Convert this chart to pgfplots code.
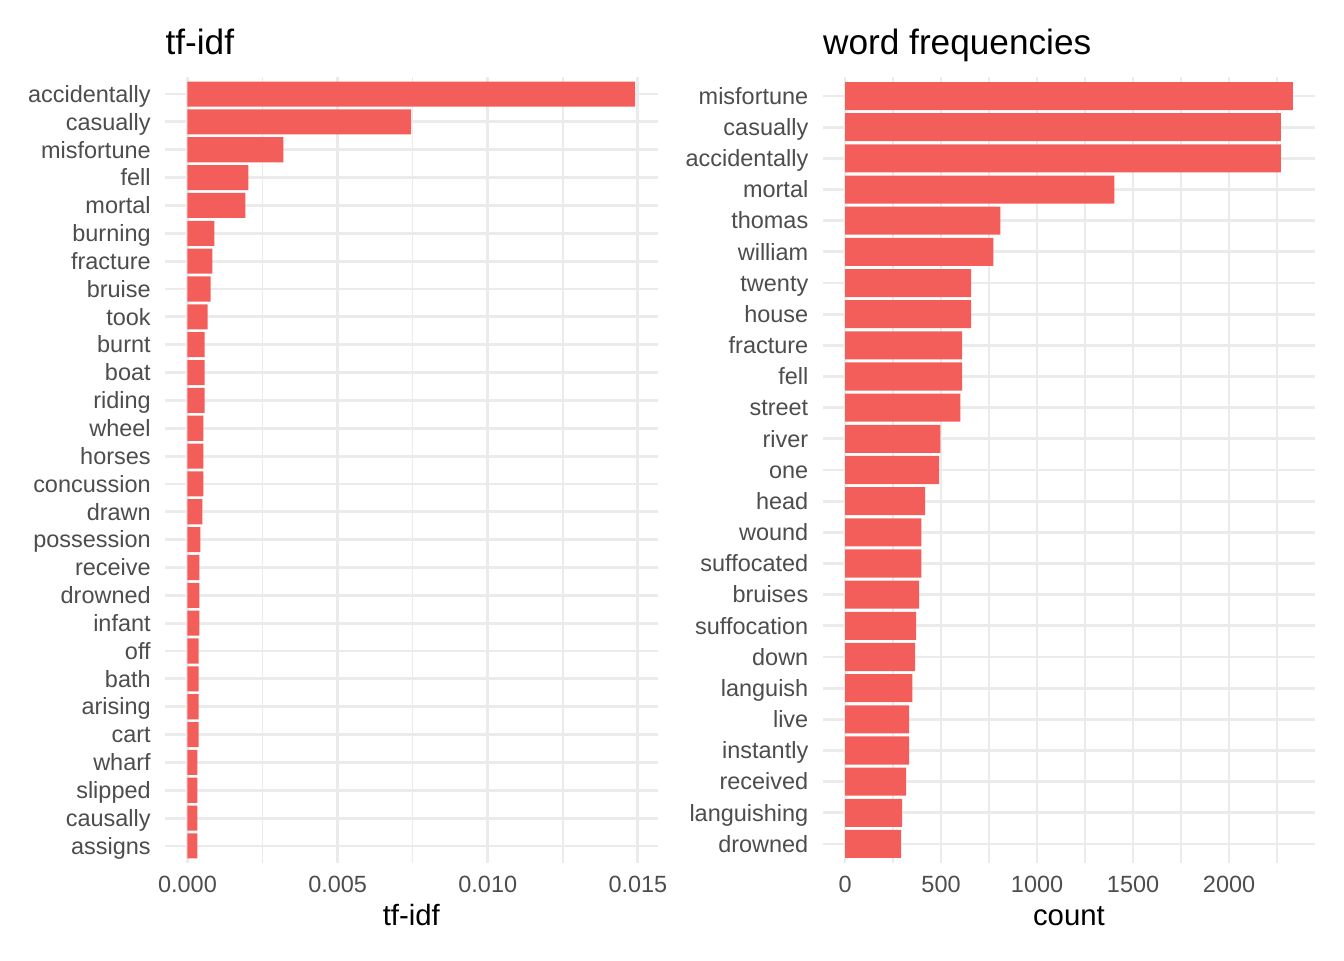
\documentclass[border=0pt]{standalone}
\usepackage{fontspec}
\setmainfont{Liberation Sans}
\usepackage{pgfplots}
\pgfplotsset{compat=1.18}
\definecolor{barc}{RGB}{243,94,90}
\definecolor{gridc}{HTML}{EBEBEB}
\definecolor{tickc}{HTML}{4D4D4D}
\pgfplotsset{
  ggmin/.style={
    scale only axis,
    width=184.7pt, height=294.5pt,
    xbar, bar width=0.9, bar shift=0pt,
    axis line style={draw=none},
    major tick length=0pt, minor tick length=0pt,
    tick style={draw=none},
    scaled x ticks=false,
    xmajorgrids, ymajorgrids, xminorgrids,
    major grid style={gridc, line width=1.07pt},
    minor grid style={gridc, line width=0.53pt},
    ymin=0.4,
    xticklabel style={font=\fontsize{8.8}{10}\selectfont, text=tickc, anchor=base, inner sep=0pt, yshift=-11pt},
    yticklabel style={font=\fontsize{8.8}{10}\selectfont, text=tickc, anchor=base east, inner sep=0pt, xshift=-5.2pt, yshift=-3.1pt},
    xlabel style={font=\fontsize{11}{13}\selectfont, at={(axis description cs:0.5,0)}, anchor=base, inner sep=0pt, yshift=-23.4pt},
    every axis title shift=0pt,
    title style={font=\fontsize{13.2}{15}\selectfont, at={(axis description cs:0,1)}, anchor=base west, inner sep=0pt, yshift=8.6pt},
  }
}
\pgfplotstableread{
y v
28 0.01491
27 0.00745
26 0.00319
25 0.00203
24 0.00193
23 0.00090
22 0.00083
21 0.00077
20 0.00067
19 0.00057
18 0.00057
17 0.00057
16 0.00053
15 0.00053
14 0.00053
13 0.00050
12 0.00043
11 0.00040
10 0.00040
9 0.00040
8 0.00037
7 0.00037
6 0.00037
5 0.00037
4 0.00033
3 0.00033
2 0.00033
1 0.00033
}\tfidf
\pgfplotstableread{
y v
25 2332
24 2270
23 2270
22 1403
21 809
20 772
19 657
18 657
17 610
16 610
15 600
14 496
13 490
12 417
11 397
10 397
9 386
8 370
7 365
6 350
5 334
4 334
3 318
2 297
1 292
}\freq
\begin{document}
\begin{tikzpicture}
\path[use as bounding box, fill=white] (0pt,0pt) rectangle (504pt,360pt);
\begin{axis}[ggmin,
  at={(61.9pt,36.5pt)}, anchor=south west,
  xmin=-0.000746, xmax=0.015656, ymax=28.6,
  xtick={0,0.005,0.01,0.015},
  xticklabels={0.000,0.005,0.010,0.015},
  minor xtick={0.0025,0.0075,0.0125},
  ytick={1,...,28},
  yticklabels={assigns,causally,slipped,wharf,cart,arising,bath,off,infant,drowned,receive,possession,drawn,concussion,horses,wheel,riding,boat,burnt,took,bruise,fracture,burning,mortal,fell,misfortune,casually,accidentally},
  xlabel={tf-idf},
  title={tf-idf},
]
\addplot[fill=barc, draw=none] table[x=v, y=y] {\tfidf};
\end{axis}
\begin{axis}[ggmin,
  at={(308.5pt,36.5pt)}, anchor=south west,
  xmin=-116.6, xmax=2448.6, ymax=25.6,
  xtick={0,500,1000,1500,2000},
  xticklabels={0,500,1000,1500,2000},
  minor xtick={250,750,1250,1750,2250},
  ytick={1,...,25},
  yticklabels={drowned,languishing,received,instantly,live,languish,down,suffocation,bruises,suffocated,wound,head,one,river,street,fell,fracture,house,twenty,william,thomas,mortal,accidentally,casually,misfortune},
  xlabel={count},
  title={word frequencies},
]
\addplot[fill=barc, draw=none] table[x=v, y=y] {\freq};
\end{axis}
\end{tikzpicture}
\end{document}
